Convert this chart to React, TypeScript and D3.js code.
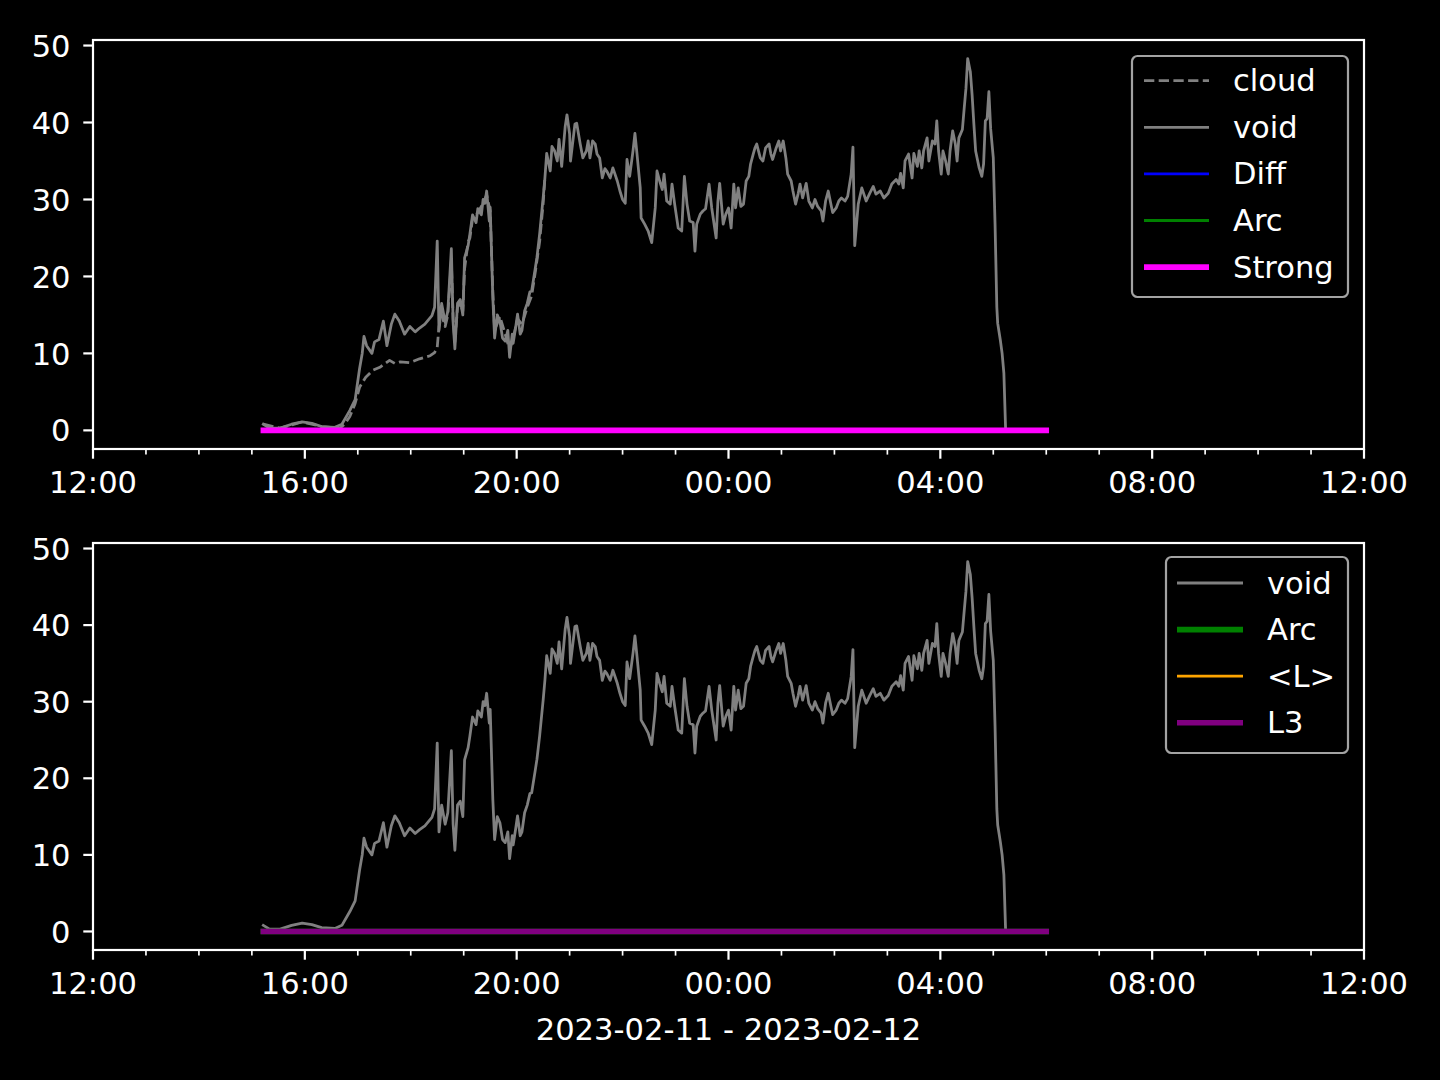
import React from "react";
import * as d3 from "d3";

// ---------- data ----------
const voidTimes = [
  "15:13","15:20","15:32","15:45","15:57","16:08","16:19","16:34","16:42","16:51","16:57","16:59",
  "17:02","17:05","17:07","17:10","17:16","17:19","17:24","17:29","17:33","17:38","17:42","17:47",
  "17:53","17:59","18:05","18:10","18:16","18:24","18:27","18:30","18:32","18:35","18:39","18:42",
  "18:46","18:48","18:50","18:53","18:56","18:59","19:01","19:05","19:07","19:10","19:14","19:16",
  "19:20","19:22","19:24","19:26","19:29","19:30","19:33","19:35","19:38","19:41","19:44","19:47",
  "19:50","19:52","19:55","19:56","19:59","20:01","20:04","20:06","20:09","20:12","20:15","20:17",
  "20:21","20:23","20:26","20:30","20:32","20:34","20:38","20:40","20:43","20:46","20:48","20:51",
  "20:55","20:57","21:00","21:01","21:06","21:08","21:12","21:15","21:19","21:21","21:23","21:26",
  "21:29","21:31","21:34","21:37","21:40","21:42","21:46","21:49","21:54","21:57","22:00","22:03",
  "22:05","22:08","22:12","22:14","22:16","22:20","22:21","22:25","22:29","22:33","22:37","22:39",
  "22:42","22:45","22:47","22:50","22:54","22:56","22:59","23:03","23:07","23:10","23:13","23:16",
  "23:20","23:22","23:24","23:28","23:31","23:34","23:38","23:41","23:46","23:48","23:50","23:54",
  "23:57","00:00","00:03","00:06","00:08","00:11","00:14","00:17","00:20","00:23","00:25","00:28",
  "00:30","00:32","00:36","00:39","00:42","00:46","00:48","00:50","00:54","00:57","00:59","01:02",
  "01:05","01:07","01:11","01:13","01:16","01:19","01:21","01:24","01:28","01:31","01:35","01:38",
  "01:41","01:45","01:47","01:50","01:53","01:56","01:58","02:02","02:05","02:08","02:12","02:15",
  "02:19","02:21","02:23","02:27","02:31","02:36","02:40","02:44","02:47","02:52","02:56","03:01",
  "03:05","03:10","03:13","03:15","03:18","03:20","03:24","03:28","03:30","03:34","03:36","03:39",
  "03:41","03:45","03:47","03:51","03:54","03:56","03:58","04:01","04:03","04:06","04:09","04:11",
  "04:14","04:17","04:19","04:21","04:25","04:27","04:29","04:31","04:34","04:36","04:38","04:40",
  "04:44","04:47","04:49","04:51","04:53","04:55","04:57","05:00","05:02","05:04","05:05","05:08",
  "05:10","05:12","05:14"
];
const voidValues = [
  0.8,0.3,0.3,0.8,1.1,0.9,0.5,0.4,0.8,2.6,4.0,5.6,
  8.0,10.0,12.2,11.0,10.0,11.5,11.8,14.2,11.0,13.8,15.1,14.2,
  12.5,13.5,12.8,13.3,13.8,14.9,16.0,24.6,13.0,16.5,14.0,15.5,
  23.6,14.0,10.6,16.5,17.0,15.0,22.4,24.0,25.5,28.0,27.0,28.8,
  28.0,30.0,29.5,31.1,27.2,29.0,17.2,12.0,15.0,14.2,12.0,11.6,
  13.0,9.5,12.5,11.3,13.5,15.1,12.5,13.0,15.5,16.5,18.0,18.1,
  21.0,22.5,25.5,30.2,32.8,36.0,33.7,36.9,36.3,35.0,37.8,34.3,
  39.5,41.0,38.5,35.0,39.8,39.9,37.2,35.4,36.3,37.6,35.4,37.6,
  37.2,35.9,35.4,32.8,34.0,33.7,32.8,34.1,32.4,31.1,30.0,29.5,
  35.2,33.0,36.5,38.6,36.3,31.5,27.6,26.8,25.9,24.4,28.9,33.7,
  32.4,31.3,33.3,29.8,29.4,32.0,29.4,26.3,25.9,33.0,29.4,27.2,
  27.0,23.3,26.8,28.1,28.5,28.8,32.0,28.9,25.0,29.8,32.1,26.8,
  28.1,28.9,26.3,32.0,28.9,31.5,29.1,29.4,32.4,33.0,34.6,35.9,
  36.7,37.2,35.4,35.0,36.7,37.2,35.9,35.2,36.7,37.6,36.3,37.6,
  35.4,33.3,32.4,31.1,29.4,30.8,32.0,30.2,32.1,29.8,28.9,30.0,
  29.1,28.5,27.2,29.8,31.1,29.4,28.3,28.9,29.8,30.2,29.8,30.4,
  33.3,36.8,24.0,29.4,31.5,29.8,30.8,31.7,30.7,31.1,30.2,30.8,
  32.0,32.6,32.0,33.4,31.5,35.0,35.9,32.8,36.0,34.3,36.3,34.1,
  36.3,38.0,35.0,37.6,37.2,40.2,36.3,33.3,36.3,35.0,33.3,36.3,
  38.9,37.2,35.0,38.0,39.1,41.8,44.4,48.3,46.6,43.6,39.8,36.3,
  34.1,33.0,34.6,40.2,40.5,44.0,39.2,35.4,26.8,16.0,13.9,11.7,
  10.0,7.4,0.0
];

const cloudTimes = [
  "15:13","15:32","15:57","16:19","16:40","16:45","16:51","16:57","17:02","17:09","17:17","17:25",
  "17:31","17:36","17:42","17:48","17:59","18:10","18:22","18:27","18:30","18:32","18:35","18:39",
  "18:42","18:46","18:48","18:50","18:53","18:56","18:59","19:01","19:05","19:07","19:10","19:16",
  "19:22","19:26","19:30","19:33","19:35","19:41","19:47","19:52","19:56","20:01","20:06","20:12",
  "20:17","20:21","20:26","20:30","20:32"
];
const cloudValues = [
  0.8,0.3,1.1,0.5,0.3,0.8,1.8,3.5,5.6,6.9,7.8,8.2,
  8.7,9.1,8.7,8.9,8.8,9.3,9.7,10.1,10.8,13.5,15.0,13.5,
  15.0,22.0,14.5,11.5,16.0,16.5,15.5,21.0,24.5,25.0,27.5,28.3,
  29.5,30.6,28.5,18.0,13.0,14.8,12.5,10.5,12.0,14.5,13.8,16.0,
  17.5,20.5,24.5,29.5,32.8
];

const flatTimes = ["15:13", "06:00"];
const diffValues = [0, 0];
const arcValues = [0, 0];
const strongValues = [0, 0];
const lValues = [0, 0];
const l3Values = [0, 0];

const yTicks = [0, 10, 20, 30, 40, 50];
const xLabel = "2023-02-11 - 2023-02-12";

// ---------- layout ----------
const W = 1440;
const H = 1080;
const FS = 30.56;
const LW = 2.78;
const X0 = 93;
const X1 = 1364;
const FONT = "DejaVu Sans, sans-serif";

function parseT(s: string): Date {
  const [h, m] = s.split(":").map(Number);
  return new Date(2023, 1, h < 12 ? 12 : 11, h, m);
}

type Series = {
  label: string;
  times: string[];
  values: number[];
  color: string;
  width: number;
  dash?: string;
};

const topSeries: Series[] = [
  { label: "cloud", times: cloudTimes, values: cloudValues, color: "#808080", width: LW, dash: "10.3,4.4" },
  { label: "void", times: voidTimes, values: voidValues, color: "#808080", width: LW },
  { label: "Diff", times: flatTimes, values: diffValues, color: "#0000ff", width: LW },
  { label: "Arc", times: flatTimes, values: arcValues, color: "#008000", width: LW },
  { label: "Strong", times: flatTimes, values: strongValues, color: "#ff00ff", width: 2 * LW },
];
const bottomSeries: Series[] = [
  { label: "void", times: voidTimes, values: voidValues, color: "#808080", width: LW },
  { label: "Arc", times: flatTimes, values: arcValues, color: "#008000", width: 2 * LW },
  { label: "<L>", times: flatTimes, values: lValues, color: "#ffa500", width: LW },
  { label: "L3", times: flatTimes, values: l3Values, color: "#800080", width: 2 * LW },
];

const xScale = d3
  .scaleTime()
  .domain([new Date(2023, 1, 11, 12), new Date(2023, 1, 12, 12)])
  .range([X0, X1]);
const fmt = d3.timeFormat("%H:%M");
const majorTicks = xScale.ticks(d3.timeHour.every(4) as any);
const minorTicks = xScale
  .ticks(d3.timeHour.every(1) as any)
  .filter((t) => t.getHours() % 4 !== 0);

type LegendBox = { x: number; y: number; w: number; h: number; y0: number; hx0: number; hx1: number; tx: number };

function Panel({ top, bottom, series, legend }: { top: number; bottom: number; series: Series[]; legend: LegendBox }) {
  const yScale = d3.scaleLinear().domain([-2.42, 50.72]).range([bottom, top]);
  const step = 46.6;
  return (
    <g>
      <defs>
        <clipPath id={`clip${top}`}>
          <rect x={X0} y={top} width={X1 - X0} height={bottom - top} />
        </clipPath>
      </defs>
      <g clipPath={`url(#clip${top})`}>
        {series.map((s, i) => {
          const pts = s.times.map((t, k) => [parseT(t), s.values[k]] as [Date, number]);
          const line = d3
            .line<[Date, number]>()
            .x((d) => xScale(d[0]))
            .y((d) => yScale(d[1]));
          return (
            <path
              key={i}
              d={line(pts) || ""}
              fill="none"
              stroke={s.color}
              strokeWidth={s.width}
              strokeDasharray={s.dash}
              strokeLinejoin="round"
              strokeLinecap={s.dash ? "butt" : "square"}
            />
          );
        })}
      </g>
      {/* spines */}
      <rect x={X0} y={top} width={X1 - X0} height={bottom - top} fill="none" stroke="#ffffff" strokeWidth={2.2} />
      {/* y ticks */}
      {yTicks.map((v) => (
        <g key={v}>
          <line x1={X0 - 9.7} x2={X0} y1={yScale(v)} y2={yScale(v)} stroke="#fff" strokeWidth={2.2} />
          <text x={X0 - 22.5} y={yScale(v) + 11.1} fill="#fff" fontSize={FS} fontFamily={FONT} textAnchor="end">
            {v}
          </text>
        </g>
      ))}
      {/* x ticks */}
      {majorTicks.map((t, i) => (
        <g key={"M" + i}>
          <line x1={xScale(t)} x2={xScale(t)} y1={bottom} y2={bottom + 9.7} stroke="#fff" strokeWidth={2.2} />
          <text x={xScale(t)} y={bottom + 44} fill="#fff" fontSize={FS} fontFamily={FONT} textAnchor="middle">
            {fmt(t)}
          </text>
        </g>
      ))}
      {minorTicks.map((t, i) => (
        <line key={"m" + i} x1={xScale(t)} x2={xScale(t)} y1={bottom} y2={bottom + 5.6} stroke="#fff" strokeWidth={1.67} />
      ))}
      {/* legend */}
      <rect
        x={legend.x}
        y={legend.y}
        width={legend.w}
        height={legend.h}
        rx={5.5}
        ry={5.5}
        fill="#000"
        fillOpacity={0.8}
        stroke="#a3a3a3"
        strokeWidth={2.2}
      />
      {series.map((s, i) => {
        const ly = legend.y0 + i * step;
        return (
          <g key={"L" + i}>
            <line
              x1={legend.hx0}
              x2={legend.hx1}
              y1={ly}
              y2={ly}
              stroke={s.color}
              strokeWidth={s.width}
              strokeDasharray={s.dash}
            />
            <text x={legend.tx} y={ly + 10.5} fill="#fff" fontSize={FS} fontFamily={FONT}>
              {s.label}
            </text>
          </g>
        );
      })}
    </g>
  );
}

export default function App() {
  return (
    <svg
      width={W}
      height={H}
      viewBox={`0 0 ${W} ${H}`}
      style={{ position: "absolute", left: 0, top: 0, display: "block" }}
    >
      <rect x={0} y={0} width={W} height={H} fill="#000" />
      <Panel
        top={40}
        bottom={449}
        series={topSeries}
        legend={{ x: 1132, y: 56, w: 216, h: 241, y0: 80.7, hx0: 1144, hx1: 1209, tx: 1233 }}
      />
      <Panel
        top={543}
        bottom={950}
        series={bottomSeries}
        legend={{ x: 1166, y: 557, w: 182, h: 196, y0: 583, hx0: 1177, hx1: 1243, tx: 1267 }}
      />
      <text x={(X0 + X1) / 2} y={1040} fill="#fff" fontSize={FS} fontFamily={FONT} textAnchor="middle">
        {xLabel}
      </text>
    </svg>
  );
}
